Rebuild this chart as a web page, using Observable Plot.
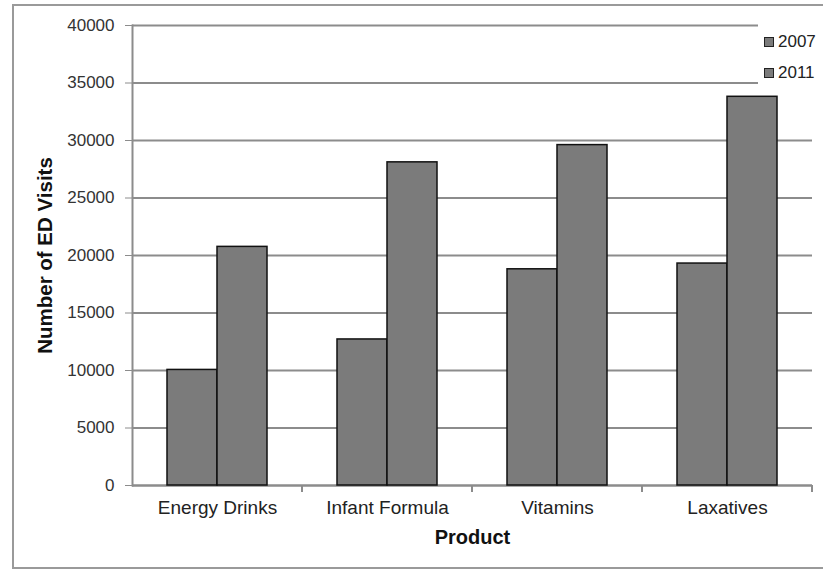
<!DOCTYPE html>
<html>
<head>
<meta charset="utf-8">
<script src="https://cdn.jsdelivr.net/npm/d3@7"></script>
<script src="https://cdn.jsdelivr.net/npm/@observablehq/plot@0.6"></script>
<style>
  body { margin: 0; background: #fff; }
  #wrap { position: relative; width: 823px; height: 569px; overflow: hidden; font-family: "Liberation Sans", Arial, sans-serif; }
  #wrap svg { position: absolute; left: 0; top: 0; }
  #border { position: absolute; left: 12px; top: 4px; width: 830px; height: 561px; border: 2px solid #9a9a9a; border-right: none; }
  #legend { position: absolute; left: 758px; top: 20px; width: 65px; height: 70px; background: #fff; }
  .item { position: absolute; left: 6px; height: 18px; display: flex; align-items: center; font-size: 17px; color: #222; }
  .sw { width: 8px; height: 8px; background: #7b7b7b; border: 1px solid #222; margin-right: 4px; }
  g[aria-label="y-axis label"] text { font-weight: bold; font-size: 20.5px; fill: #111; }
  g[aria-label="fx-axis label"] text { font-weight: bold; font-size: 20px; fill: #111; }
</style>
</head>
<body>
<div id="wrap">
  <div id="border"></div>
</div>
<script>
const products = ["Energy Drinks", "Infant Formula", "Vitamins", "Laxatives"];
const years = ["2007", "2011"];
const visits2007 = [10050, 12700, 18800, 19300];
const visits2011 = [20750, 28100, 29600, 33800];
const yTicks = [0, 5000, 10000, 15000, 20000, 25000, 30000, 35000, 40000];
const yLabel = "Number of ED Visits";
const xLabel = "Product";

const data = products.flatMap((p, i) => [
  {product: p, year: years[0], visits: visits2007[i]},
  {product: p, year: years[1], visits: visits2011[i]}
]);

const gray = "#8c8c8c";

const plot = Plot.plot({
  width: 823,
  height: 569,
  marginLeft: 131,
  marginRight: 11,
  marginTop: 25,
  marginBottom: 84,
  style: {fontFamily: "'Liberation Sans', Arial, sans-serif", background: "transparent", overflow: "visible", color: "#222"},
  fx: {domain: products, padding: 0},
  x: {domain: years, paddingInner: 0, paddingOuter: 0.7, axis: null},
  y: {domain: [0, 40000]},
  marks: [
    Plot.gridY(yTicks, {stroke: gray, strokeOpacity: 1, strokeWidth: 2}),
    Plot.ruleY([0], {stroke: gray, strokeWidth: 2}),
    Plot.frame({anchor: "left", facetAnchor: "left", stroke: gray, strokeWidth: 2}),
    Plot.barY(data, {fx: "product", x: "year", y: "visits", fill: "#7b7b7b", stroke: "#111", strokeWidth: 1.5}),
    Plot.axisY(yTicks, {tickSize: 7, tickPadding: 11, tickFormat: d3.format("d"), fontSize: 17, stroke: gray, fill: "#333",
      label: yLabel, labelArrow: "none", labelAnchor: "center", labelOffset: 95}),
    Plot.axisFx({anchor: "bottom", tickSize: 0, tickPadding: 15, fontSize: 19, fill: "#222",
      label: xLabel, labelArrow: "none", labelAnchor: "center", labelOffset: 58})
  ]
});

const wrap = document.getElementById("wrap");
wrap.appendChild(plot);

const svgEl = plot.tagName.toLowerCase() === "svg" ? plot : plot.querySelector("svg");
const svg = d3.select(svgEl);
// make sure axis labels carry no arrow
svg.selectAll('g[aria-label="y-axis label"] text').text(yLabel);
svg.selectAll('g[aria-label="fx-axis label"] text').text(xLabel);

// category-boundary tick marks on the x axis, from the fx scale
const fx = plot.scale("fx");
const y = plot.scale("y");
const y0 = y.apply(0);
const g = svg.append("g").attr("stroke", gray).attr("stroke-width", 2);
products.forEach(p => {
  const xr = fx.apply(p) + fx.bandwidth;
  g.append("line").attr("x1", xr).attr("x2", xr).attr("y1", y0).attr("y2", y0 + 7);
});

// legend
const legend = document.createElement("div");
legend.id = "legend";
years.forEach((yr, i) => {
  const it = document.createElement("div");
  it.className = "item";
  it.style.top = (13 + i * 31) + "px";
  const sw = document.createElement("span");
  sw.className = "sw";
  const t = document.createElement("span");
  t.textContent = yr;
  it.appendChild(sw);
  it.appendChild(t);
  legend.appendChild(it);
});
wrap.appendChild(legend);
</script>
</body>
</html>
